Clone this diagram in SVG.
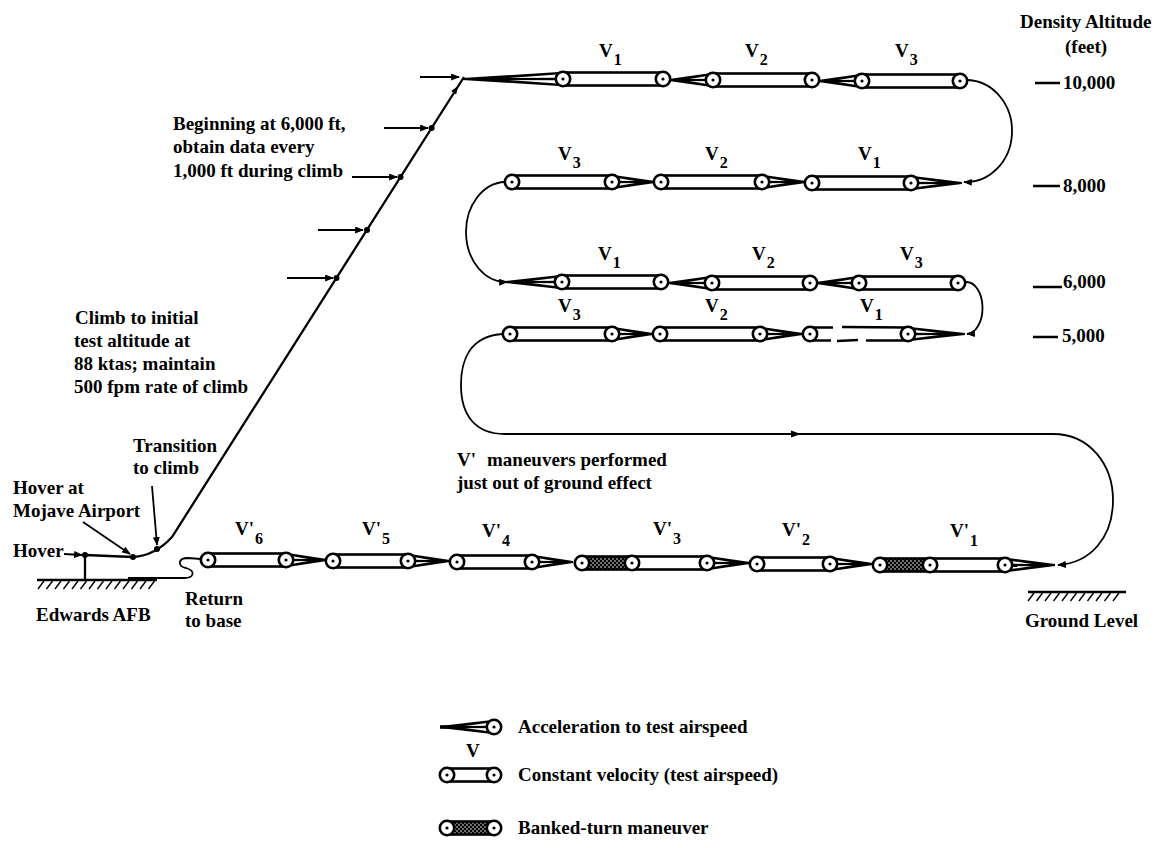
<svg xmlns="http://www.w3.org/2000/svg" width="1159" height="848" viewBox="0 0 1159 848">
<style>
text{font-family:"Liberation Serif","Times New Roman",serif;font-weight:bold;font-size:19px;fill:#000}
.sub{font-size:16px}
.bar{fill:#fff;stroke:#000;stroke-width:2.6}
.bank{fill:url(#bank);stroke:#000;stroke-width:2.6}
.c{fill:#fff;stroke:#000;stroke-width:2.6}
.ln{fill:none;stroke:#000;stroke-width:1.8}
.thick{fill:none;stroke:#000;stroke-width:2.3}
.hatch{fill:none;stroke:#000;stroke-width:1.4}
.brk{fill:none;stroke:#000;stroke-width:2.6}
</style>
<defs>
<marker id="ah" viewBox="0 0 10 8" refX="9" refY="4" markerWidth="9" markerHeight="7" markerUnits="userSpaceOnUse" orient="auto"><path d="M0,0 L10,4 L0,8 Z"/></marker>
<pattern id="bank" width="4" height="4" patternUnits="userSpaceOnUse"><rect width="4" height="4" fill="#000"/><circle cx="1" cy="3" r="0.8" fill="#fff"/><circle cx="3" cy="1" r="0.8" fill="#fff"/></pattern>
<g id="wedge">
<polygon points="0,-0.9 1,-7.3 1,7.3 0,0.9"/>
<polygon points="0.46,-1 0.94,-4.6 0.94,-1.3" fill="#fff"/>
<polygon points="0.46,1 0.94,1.3 0.94,4.6" fill="#fff"/>
</g>
<g id="cir"><circle r="7.2" class="c"/><circle r="1.6"/></g>
</defs>

<g id="connectors">
<path class="thick" d="M85,555 L133,557 C150,556 162,548 172,537 L464,77"/>
<path class="thick" d="M85,555 L85,580"/>
<polygon points="458,86 456.2,94.4 451.2,91.1"/>
<path class="ln" d="M420,77 L459,77" marker-end="url(#ah)"/>
<path class="ln" d="M384,128 L428,128" marker-end="url(#ah)"/>
<path class="ln" d="M352,177 L397,177" marker-end="url(#ah)"/>
<path class="ln" d="M318,230 L363,230" marker-end="url(#ah)"/>
<path class="ln" d="M287,278 L333,278" marker-end="url(#ah)"/>
<path class="ln" d="M64,554 L82,555" marker-end="url(#ah)"/>
<path class="ln" d="M83,522 L130,554" marker-end="url(#ah)"/>
<path class="ln" d="M152,486 L157,545" marker-end="url(#ah)"/>
<circle cx="85" cy="555" r="3"/>
<circle cx="133" cy="557" r="3"/>
<circle cx="157" cy="549" r="3"/>
<circle cx="431.6" cy="128" r="3"/>
<circle cx="400.5" cy="177" r="3"/>
<circle cx="367" cy="230" r="3"/>
<circle cx="336.5" cy="278" r="3"/>
<path class="ln" d="M968,80 A46,51 0 0 1 964,182" marker-end="url(#ah)"/>
<path class="ln" d="M505,182 A40,50 0 0 0 507,282" marker-end="url(#ah)"/>
<path class="ln" d="M966,282 A16,26 0 0 1 967,334" marker-end="url(#ah)"/>
<path class="ln" d="M503,334 C470,336 461,360 461,385 C461,415 475,434 505,434 L1053,434 C1090,434 1113,465 1113,500 C1113,538 1090,563 1058,565" marker-end="url(#ah)"/>
<polygon points="801,434 791,430.5 791,437.5"/>
<path class="ln" d="M201,559 L188,558 C178,558 177,566 186,568 C196,571 194,578 184,578 L128,578"/>
</g>

<g id="ground-edwards">
<path class="thick" d="M37,580 L157,580"/>
<path class="hatch" d="M38,589 l6,-8 M46.5,589 l6,-8 M55,589 l6,-8 M63.5,589 l6,-8 M72,589 l6,-8 M80.5,589 l6,-8 M89,589 l6,-8 M97.5,589 l6,-8 M106,589 l6,-8 M114.5,589 l6,-8 M123,589 l6,-8 M131.5,589 l6,-8 M140,589 l6,-8 M148.5,589 l6,-8"/>
<text x="36" y="621">Edwards AFB</text>
</g>
<g id="ground-level">
<path class="thick" d="M1028,592 L1126,592"/>
<path class="hatch" d="M1028,601 l6,-8 M1036.5,601 l6,-8 M1045,601 l6,-8 M1053.5,601 l6,-8 M1062,601 l6,-8 M1070.5,601 l6,-8 M1079,601 l6,-8 M1087.5,601 l6,-8 M1096,601 l6,-8 M1104.5,601 l6,-8 M1113,601 l6,-8"/>
<text x="1025" y="627">Ground Level</text>
</g>

<g id="labels-left">
<text x="173" y="130">Beginning at 6,000 ft,</text>
<text x="173" y="153">obtain data every</text>
<text x="173" y="177">1,000 ft during climb</text>
<text x="75" y="324">Climb to initial</text>
<text x="74" y="347">test altitude at</text>
<text x="74" y="370">88 ktas; maintain</text>
<text x="74" y="393">500 fpm rate of climb</text>
<text x="133" y="452">Transition</text>
<text x="133" y="474">to climb</text>
<text x="13" y="494">Hover at</text>
<text x="13" y="517">Mojave Airport</text>
<text x="13" y="557">Hover</text>
<text x="185" y="605">Return</text>
<text x="185" y="627">to base</text>
<text x="457" y="466">V'</text>
<text x="487" y="466">maneuvers performed</text>
<text x="457" y="489">just out of ground effect</text>
</g>

<g id="altitude-scale">
<text x="1020" y="28">Density Altitude</text>
<text x="1065" y="53">(feet)</text>
<path class="thick" d="M1035,83 L1060,83 M1033,186 L1060,186 M1033,287 L1062,287 M1033,337 L1058,337"/>
<text x="1063" y="89">10,000</text>
<text x="1063" y="192">8,000</text>
<text x="1063" y="288">6,000</text>
<text x="1062" y="342">5,000</text>
</g>

<g id="r1-v1">
<use href="#wedge" transform="translate(462,79) scale(101,1)"/>
<rect class="bar" x="563" y="72.5" width="100" height="13"/>
<use href="#cir" x="563" y="79"/><use href="#cir" x="663" y="79"/>
<text x="599" y="57">V<tspan class="sub" dx="1" dy="8">1</tspan></text>
</g>
<g id="r1-v2">
<use href="#wedge" transform="translate(669,80) scale(44,1)"/>
<rect class="bar" x="713" y="73.5" width="99" height="13"/>
<use href="#cir" x="713" y="80"/><use href="#cir" x="812" y="80"/>
<text x="745" y="57">V<tspan class="sub" dx="1" dy="8">2</tspan></text>
</g>
<g id="r1-v3">
<use href="#wedge" transform="translate(818,81) scale(44,1)"/>
<rect class="bar" x="862" y="74.5" width="98" height="13"/>
<use href="#cir" x="862" y="81"/><use href="#cir" x="960" y="81"/>
<text x="895" y="57">V<tspan class="sub" dx="1" dy="8">3</tspan></text>
</g>

<g id="r2-v1">
<use href="#wedge" transform="translate(962,183) scale(-51,1)"/>
<rect class="bar" x="812" y="176.5" width="99" height="13"/>
<use href="#cir" x="812" y="183"/><use href="#cir" x="911" y="183"/>
<text x="858" y="160">V<tspan class="sub" dx="1" dy="8">1</tspan></text>
</g>
<g id="r2-v2">
<use href="#wedge" transform="translate(806,182) scale(-44,1)"/>
<rect class="bar" x="661" y="175.5" width="101" height="13"/>
<use href="#cir" x="661" y="182"/><use href="#cir" x="762" y="182"/>
<text x="705" y="160">V<tspan class="sub" dx="1" dy="8">2</tspan></text>
</g>
<g id="r2-v3">
<use href="#wedge" transform="translate(655,182) scale(-43,1)"/>
<rect class="bar" x="512" y="175.5" width="100" height="13"/>
<use href="#cir" x="512" y="182"/><use href="#cir" x="612" y="182"/>
<text x="558" y="160">V<tspan class="sub" dx="1" dy="8">3</tspan></text>
</g>

<g id="r3-v1">
<use href="#wedge" transform="translate(505,282) scale(57,1)"/>
<rect class="bar" x="562" y="275.5" width="99" height="13"/>
<use href="#cir" x="562" y="282"/><use href="#cir" x="661" y="282"/>
<text x="598" y="260">V<tspan class="sub" dx="1" dy="8">1</tspan></text>
</g>
<g id="r3-v2">
<use href="#wedge" transform="translate(668,283) scale(44,1)"/>
<rect class="bar" x="712" y="276.5" width="98" height="13"/>
<use href="#cir" x="712" y="283"/><use href="#cir" x="810" y="283"/>
<text x="752" y="260">V<tspan class="sub" dx="1" dy="8">2</tspan></text>
</g>
<g id="r3-v3">
<use href="#wedge" transform="translate(816,283) scale(43,1)"/>
<rect class="bar" x="859" y="276.5" width="99" height="13"/>
<use href="#cir" x="859" y="283"/><use href="#cir" x="958" y="283"/>
<text x="900" y="260">V<tspan class="sub" dx="1" dy="8">3</tspan></text>
</g>

<g id="r4-v1">
<use href="#wedge" transform="translate(965,334) scale(-57,1)"/>
<rect x="810" y="327.5" width="98" height="13" fill="#fff"/>
<path class="brk" d="M810,327.5 L833,327.5 M842,327 L908,327.5 M810,340.5 L831,340.5 M837,341 L858,340 M866,340.5 L908,340.5"/>
<use href="#cir" x="810" y="334"/><use href="#cir" x="908" y="334"/>
<text x="860" y="312">V<tspan class="sub" dx="1" dy="8">1</tspan></text>
</g>
<g id="r4-v2">
<use href="#wedge" transform="translate(803,334) scale(-43,1)"/>
<rect class="bar" x="660" y="327.5" width="100" height="13"/>
<use href="#cir" x="660" y="334"/><use href="#cir" x="760" y="334"/>
<text x="705" y="312">V<tspan class="sub" dx="1" dy="8">2</tspan></text>
</g>
<g id="r4-v3">
<use href="#wedge" transform="translate(653,334) scale(-41,1)"/>
<rect class="bar" x="510" y="327.5" width="102" height="13"/>
<use href="#cir" x="510" y="334"/><use href="#cir" x="612" y="334"/>
<text x="558" y="312">V<tspan class="sub" dx="1" dy="8">3</tspan></text>
</g>

<g id="r5-v1">
<use href="#wedge" transform="translate(1055,565) scale(-50,1)"/>
<rect class="bar" x="930" y="558.5" width="75" height="13"/>
<rect class="bank" x="880" y="558.5" width="50" height="13"/>
<use href="#cir" x="880" y="565"/><use href="#cir" x="930" y="565"/><use href="#cir" x="1005" y="565"/>
<text x="950" y="537">V'<tspan class="sub" dx="1" dy="9">1</tspan></text>
</g>
<g id="r5-v2">
<use href="#wedge" transform="translate(873,564) scale(-43,1)"/>
<rect class="bar" x="757" y="557.5" width="73" height="13"/>
<use href="#cir" x="757" y="564"/><use href="#cir" x="830" y="564"/>
<text x="782" y="536">V'<tspan class="sub" dx="1" dy="9">2</tspan></text>
</g>
<g id="r5-v3">
<use href="#wedge" transform="translate(750,563) scale(-43,1)"/>
<rect class="bar" x="632" y="556.5" width="75" height="13"/>
<rect class="bank" x="582" y="556.5" width="50" height="13"/>
<use href="#cir" x="582" y="563"/><use href="#cir" x="632" y="563"/><use href="#cir" x="707" y="563"/>
<text x="653" y="535">V'<tspan class="sub" dx="1" dy="9">3</tspan></text>
</g>
<g id="r5-v4">
<use href="#wedge" transform="translate(573,562) scale(-41,1)"/>
<rect class="bar" x="457" y="555.5" width="75" height="13"/>
<use href="#cir" x="457" y="562"/><use href="#cir" x="532" y="562"/>
<text x="482" y="537">V'<tspan class="sub" dx="1" dy="9">4</tspan></text>
</g>
<g id="r5-v5">
<use href="#wedge" transform="translate(450,561) scale(-42,1)"/>
<rect class="bar" x="333" y="554.5" width="75" height="13"/>
<use href="#cir" x="333" y="561"/><use href="#cir" x="408" y="561"/>
<text x="362" y="535">V'<tspan class="sub" dx="1" dy="9">5</tspan></text>
</g>
<g id="r5-v6">
<use href="#wedge" transform="translate(327,560) scale(-41,1)"/>
<rect class="bar" x="208" y="553.5" width="78" height="13"/>
<use href="#cir" x="208" y="560"/><use href="#cir" x="286" y="560"/>
<text x="235" y="535">V'<tspan class="sub" dx="1" dy="9">6</tspan></text>
</g>

<g id="legend">
<use href="#wedge" transform="translate(440,727) scale(54,1)"/>
<path d="M440,727 L462,727" stroke="#000" stroke-width="3.5"/>
<use href="#cir" x="494" y="727"/>
<text x="518" y="733">Acceleration to test airspeed</text>
<text x="466" y="757">V</text>
<rect class="bar" x="447" y="768.5" width="47" height="13"/>
<use href="#cir" x="447" y="775"/><use href="#cir" x="494" y="775"/>
<text x="518" y="781">Constant velocity (test airspeed)</text>
<rect class="bank" x="447" y="821.5" width="47" height="13"/>
<use href="#cir" x="447" y="828"/><use href="#cir" x="494" y="828"/>
<text x="518" y="834">Banked-turn maneuver</text>
</g>
</svg>
